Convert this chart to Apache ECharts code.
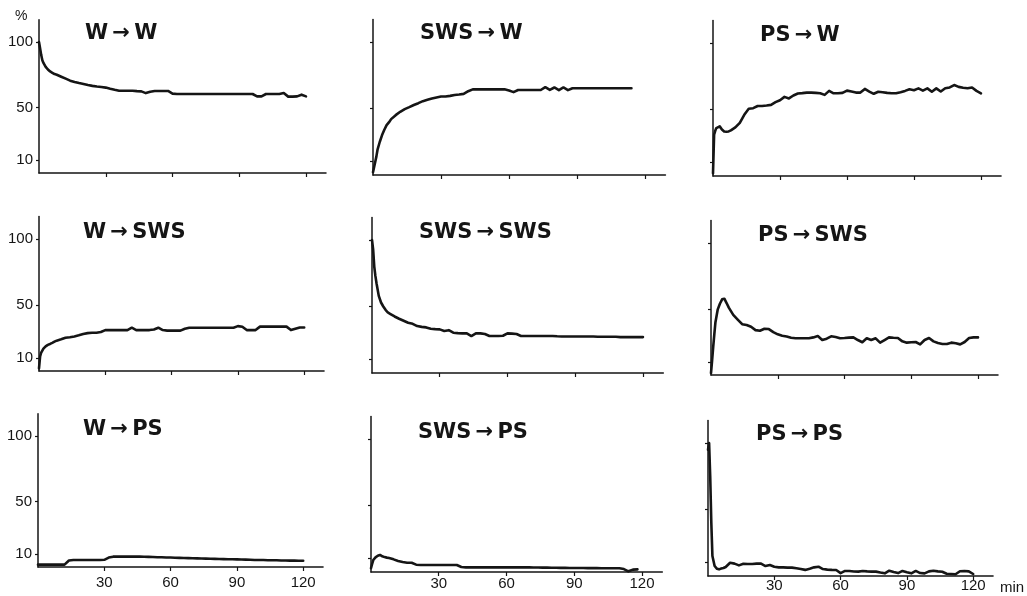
<!DOCTYPE html>
<html><head><meta charset="utf-8">
<script src="https://cdn.jsdelivr.net/npm/echarts@6/dist/echarts.min.js"></script>
<style>html,body{margin:0;padding:0;background:#fff}#c{width:1027px;height:596px}</style>
</head><body><div id="c"></div>
<script>
// time grid (minutes)
const minutes = [0,0.5,1,1.5,2,3,4,5,6,7,8,
  10,12,14,16,18,20,22,24,26,28,
  30,32,34,36,38,40,42,44,46,48,
  50,52,54,56,58,60,62,64,66,68,
  70,72,74,76,78,80,82,84,86,88,
  90,92,94,96,98,100,102,104,106,108,
  110,112,114,116,118,120];

const panelTitles = ['W\u2009\u2192\u2009W','SWS\u2009\u2192\u2009W','PS\u2009\u2192\u2009W',
  'W\u2009\u2192\u2009SWS','SWS\u2009\u2192\u2009SWS','PS\u2009\u2192\u2009SWS',
  'W\u2009\u2192\u2009PS','SWS\u2009\u2192\u2009PS','PS\u2009\u2192\u2009PS'];
const yTickValues = [10,50,100];
const xTickValues = [30,60,90,120];

// percentages
const wToW = [100,95,90,86,84,81,79,77.5,76.5,75.5,75,
  73.5,72,70.5,69.5,68.7,68,67.2,66.5,66,65.6,
  65.2,64.3,63.5,62.8,62.8,62.8,62.8,62.5,62.3,61,
  62,62.6,62.6,62.6,62.6,60.6,60.3,60.3,60.3,60.3,
  60.3,60.3,60.3,60.3,60.3,60.3,60.3,60.3,60.3,60.3,
  60.3,60.3,60.3,60.3,58.5,58.5,60.3,60.3,60.3,60.3,
  61,58.3,58.3,58.5,59.8,58.5];
const swsToW = [2,6,10,14,19,25,30,34,37.5,39.5,42,
  45,47.5,49.5,51,52.6,54,55.5,56.5,57.5,58.3,
  59,59,59.5,60.2,60.5,61,63,64.4,64.4,64.4,
  64.4,64.4,64.4,64.4,64.4,63.5,62.3,63.9,63.9,63.9,
  63.9,63.9,63.9,66,64,65.8,63.8,65.8,63.8,65.2,
  65.2,65.2,65.2,65.2,65.2,65.2,65.2,65.2,65.2,65.2,
  65.2,65.2,65.2,null,null,null];
const psToW = [2,31,34,36,37.5,37.3,35,33.5,33.3,33.5,34.3,
  36.5,40,46,50.5,51,52.6,52.6,53,53.5,55.5,
  57,59.5,58.3,60.5,62,62.3,62.7,62.7,62.5,62.2,
  61,64,62.2,62.2,62.5,64.2,63.5,62.7,62.7,65.5,
  63.5,61.8,63.3,63,62.5,62.2,62.2,63,64,65.2,
  64.5,65.9,64.2,65.9,63.4,65.9,63.5,66,66.6,68.4,
  67,66.3,66,66.5,64,62.2];
const wToSws = [2,11,14,15.5,17,18.7,19.8,20.5,21.3,22.2,23,
  24,25.2,25.6,26.2,27,28,28.7,29,29,29.5,
  31,31,31,31,31,31,32.8,31,31,31,
  31,31.5,32.8,31,30.6,30.6,30.6,30.6,32,32.8,
  32.8,32.8,32.8,32.8,32.8,32.8,32.8,32.8,32.8,32.8,
  34,33.5,31,31,31,33.6,33.6,33.6,33.6,33.6,
  33.6,33.6,31,32,33,33];
const swsToSws = [100,93,80,73,67.5,58,53,50,47.5,45.5,44.5,
  42.5,40.8,39.3,37.8,37,35.3,34.7,34.3,33.3,33,
  32.8,31.6,32.2,30.3,30,29.8,29.8,27.8,29.8,29.8,
  29.3,27.8,27.8,27.8,28,29.8,29.6,29.3,27.8,27.8,
  27.8,27.8,27.8,27.8,27.8,27.8,27.6,27.5,27.5,27.5,
  27.5,27.5,27.5,27.5,27.5,27.2,27.2,27.2,27.2,27.2,
  27,27,27,27,27,27];
const psToSws = [1.5,11,21.5,31,40,49.5,54,57.3,57.8,54.5,51,
  45.5,42,38.5,37.9,36.5,34,33.5,35,34.8,32.5,
  30.8,29.7,29.2,28.2,27.8,27.8,27.8,27.8,28.5,29.5,
  26.5,27.5,29.3,28.8,27.8,28,28.3,28.5,26.5,24.8,
  27.8,26.5,27.8,24.5,26.5,28.5,28.2,28,25.5,24.5,
  24.8,25,23.2,26.5,28,25.5,24.2,23.5,23.5,24.5,
  24,23.2,25,28,28.5,28.5];
const wToPs = [1.8,1.8,1.8,1.8,1.8,1.8,1.8,1.8,1.8,1.8,1.8,
  1.8,1.8,5,5.3,5.3,5.3,5.3,5.3,5.3,5.3,
  5.5,7.2,7.9,7.9,7.9,7.9,7.9,7.9,7.9,7.8,
  7.7,7.6,7.5,7.4,7.3,7.2,7.1,7,6.9,6.8,
  6.7,6.6,6.5,6.4,6.3,6.2,6.1,6,5.9,5.9,
  5.8,5.7,5.6,5.5,5.4,5.3,5.3,5.2,5.1,5.1,
  5,5,4.9,4.9,4.8,4.8];
const swsToPs = [2.8,6,9,10,11,12.2,12.8,11.8,11.2,10.8,10.5,
  9.5,8.3,7.5,7,7,5.5,5.3,5.3,5.3,5.3,
  5.3,5.3,5.3,5.3,5.3,3.8,3.5,3.5,3.5,3.5,
  3.5,3.5,3.5,3.5,3.5,3.5,3.5,3.5,3.5,3.5,
  3.5,3.4,3.4,3.3,3.3,3.2,3.2,3.1,3.1,3,
  3,3,3,2.9,2.9,2.9,2.8,2.8,2.8,2.8,
  2.8,2.2,0.5,1.8,2,null];
const psToPs = [95,100,75,40,15,7.5,5.5,5,5.6,6,6.8,
  10,9.3,8,9.2,9,9,9.3,9.3,7.5,8.3,
  7,6.5,6.5,6.3,6.3,5.8,5.3,4.6,5.5,6.5,
  7,5.2,4.8,4.6,4.5,2.2,3.8,3.8,3.4,3.3,
  3.8,3.5,3.3,3.3,2.6,2,4,3,2.2,3.8,
  2.8,2,3.8,2.2,2,3.5,4,3.5,3.2,1.7,
  1.5,1.3,3.6,3.8,3.5,1.5];

const panelValues = [wToW, swsToW, psToW, wToSws, swsToSws, psToSws, wToPs, swsToPs, psToPs];

// panel geometry: y-axis x, x-axis y, px per minute, px per percent
const geom = [
  [39,173,2.225,1.31],[373,175,2.267,1.33],[713,176,2.233,1.33],
  [39,371,2.21,1.32],[372,373,2.258,1.33],[711,375,2.225,1.32],
  [38,567,2.21,1.31],[371,572,2.258,1.33],[708,576,2.21,1.33]
];
const titlePos = [[85,36],[420,36],[760,38],[83,235],[419,235],[758,238],[83,432],[418,435],[756,437]];
const xLabelMargin = [0,0,0,0,0,0,8,4,2];
const X_MAX = 129, Y_MAX = 117;
const ink = '#151515';
const FONT = '"Liberation Sans", Arial, sans-serif';

const grids = [], xAxes = [], yAxes = [], series = [], graphics = [];
geom.forEach((g, i) => {
  const [x0, y0, pm, pu] = g;
  const col = i % 3, row = Math.floor(i / 3);
  grids.push({left: x0, top: y0 - Y_MAX * pu, width: X_MAX * pm, height: Y_MAX * pu});
  xAxes.push({
    type: 'value', gridIndex: i, min: 0, max: X_MAX,
    axisLine: {show: true, lineStyle: {color: ink, width: 1.5}},
    axisTick: {show: true, length: 4, customValues: xTickValues, lineStyle: {color: ink, width: 1.2}},
    axisLabel: {show: row === 2, customValues: xTickValues, margin: xLabelMargin[i],
      color: ink, fontSize: 15, fontFamily: FONT},
    splitLine: {show: false}
  });
  yAxes.push({
    type: 'value', gridIndex: i, min: 0, max: Y_MAX,
    axisLine: {show: true, lineStyle: {color: ink, width: 1.5}},
    axisTick: {show: true, length: 3, customValues: yTickValues, lineStyle: {color: ink, width: 1.2}},
    axisLabel: {show: col === 0, customValues: yTickValues, margin: 6,
      color: ink, fontSize: 15, fontFamily: FONT},
    splitLine: {show: false}
  });
  const vals = panelValues[i];
  const data = [];
  minutes.forEach((t, k) => { if (vals[k] !== null && vals[k] !== undefined) data.push([t, vals[k]]); });
  series.push({
    type: 'line', xAxisIndex: i, yAxisIndex: i, data: data,
    showSymbol: false, symbol: 'none', smooth: false, clip: false,
    lineStyle: {color: ink, width: 2.6, join: 'round', cap: 'round'}
  });
  graphics.push({
    type: 'text', left: titlePos[i][0], top: titlePos[i][1] - 13,
    style: {text: panelTitles[i], fill: ink, font: 'bold 21px "DejaVu Sans", sans-serif'}
  });
});
graphics.push({type: 'text', left: 15, top: 9, style: {text: '%', fill: ink, font: '14px "Liberation Sans", sans-serif'}});
graphics.push({type: 'text', left: 1000, top: 580, style: {text: 'min', fill: ink, font: '15px "Liberation Sans", sans-serif'}});

const chart = echarts.init(document.getElementById('c'), null, {renderer: 'canvas'});
chart.setOption({
  animation: false,
  backgroundColor: '#ffffff',
  grid: grids, xAxis: xAxes, yAxis: yAxes, series: series, graphic: graphics
});
</script></body></html>
